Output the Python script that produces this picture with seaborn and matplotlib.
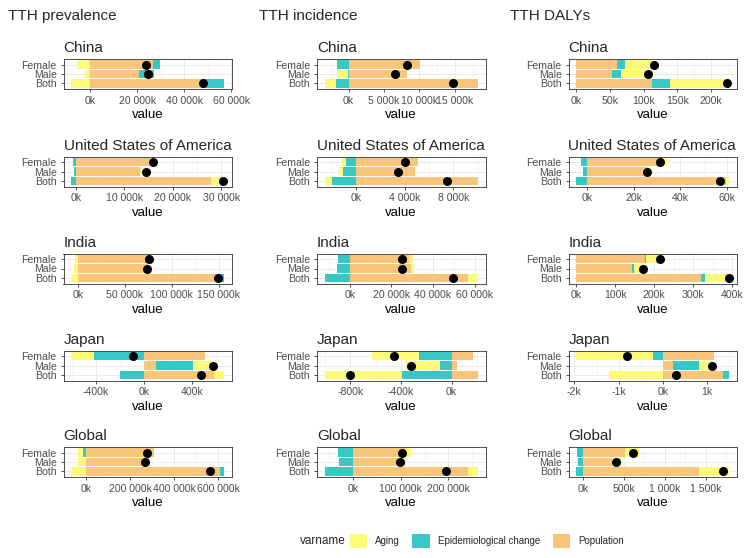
import numpy as np
import matplotlib
matplotlib.use("Agg")
import matplotlib.pyplot as plt
import seaborn as sns
from matplotlib.patches import Patch
from matplotlib.ticker import FixedLocator, FuncFormatter

sns.set_theme(style="white")
plt.rcParams['font.family'] = ['Liberation Sans', 'DejaVu Sans']

measures = ["TTH prevalence", "TTH incidence", "TTH DALYs"]
locations = ["China", "United States of America", "India", "Japan", "Global"]
sexes = ["Both", "Male", "Female"]  # bottom -> top

# all values in thousands; each inner list is [Both, Male, Female]
prev_aging = [[-8200, -2100, -5700], [2800, 400, 400], [-7100, -3900, -2900],
              [90, 168, -188], [-70000, -40000, -25000]]
prev_epi = [[10000, 6600, 3300], [-1000, -500, -600], [8000, 200, 200],
            [-196, 308, -420], [19000, 0, -15000]]
prev_pop = [[47000, 20600, 26500], [27800, 13100, 15200], [148000, 75000, 77000],
            [582, 100, 512], [610000, 286000, 310000]]
prev_total = [[48000, 24700, 23800], [30300, 14400, 15800], [149000, 73900, 75700],
              [479, 577, -95], [565000, 267000, 276000]]

inc_aging = [[-1570, -1560, -100], [-630, -390, -300], [4800, 1450, 2090],
             [-610, -270, -374], [20000, 14000, 11000]]
inc_epi = [[-1800, -100, -1560], [-1920, -1010, -820], [-12070, -6110, -5630],
           [-392, -93, -257], [-60000, -29000, -31000]]
inc_pop = [[18250, 8240, 10030], [10000, 4850, 5120], [56800, 29440, 28480],
           [207, 40, 172], [242000, 96000, 110000]]
inc_total = [[14750, 6590, 8300], [7480, 3420, 4030], [49550, 24950, 24950],
             [-803, -323, -456], [196000, 98000, 102000]]

daly_aging = [[88, 36, 43], [1.6, 1.3, 2.4], [63, 22, 34],
              [-1.22, 0.29, -1.74], [370, 110, 160]]
daly_epi = [[26, 13, 12], [-4.7, -1.6, -2.7], [9, 5, 4],
            [0.15, 0.58, -0.22], [-82, -60, -70]]
daly_pop = [[113, 53, 60], [59.4, 26, 31.8], [320, 144, 176],
            [1.35, 0.23, 1.16], [1420, 360, 520]]
daly_total = [[224, 106, 116], [56.8, 25.7, 31.4], [390, 171, 214],
              [0.30, 1.10, -0.81], [1708, 410, 607]]

ticks = {
    "TTH prevalence": [[0, 20000, 40000, 60000], [0, 10000, 20000, 30000],
                       [0, 50000, 100000, 150000], [-400, 0, 400],
                       [0, 200000, 400000, 600000]],
    "TTH incidence": [[0, 5000, 10000, 15000], [0, 4000, 8000],
                      [0, 20000, 40000, 60000], [-800, -400, 0],
                      [0, 100000, 200000]],
    "TTH DALYs": [[0, 50, 100, 150, 200], [0, 20, 40, 60],
                  [0, 100, 200, 300, 400], [-2, -1, 0, 1],
                  [0, 500, 1000, 1500]],
}

data = {
    "TTH prevalence": (prev_aging, prev_epi, prev_pop, prev_total),
    "TTH incidence": (inc_aging, inc_epi, inc_pop, inc_total),
    "TTH DALYs": (daly_aging, daly_epi, daly_pop, daly_total),
}

c_aging = "#FCFA78"
c_epi = "#36C8C5"
c_pop = "#F9C57B"


def fmt_k(v, pos=None):
    s = f"{v:,.0f}".replace(",", " ")
    return s + "k"


def draw_panel(ax, aging, epi, pop, total, tk):
    y = np.arange(3)
    pos_base = np.zeros(3)
    neg_base = np.zeros(3)
    # stack order from zero outwards: Population, Epidemiological change, Aging
    for vals, col in [(pop, c_pop), (epi, c_epi), (aging, c_aging)]:
        vals = np.asarray(vals, float)
        left = np.where(vals >= 0, pos_base, neg_base)
        ax.barh(y, vals, left=left, height=0.9, color=col, linewidth=0, zorder=2)
        pos_base += np.clip(vals, 0, None)
        neg_base += np.clip(vals, None, 0)
    sns.scatterplot(x=total, y=y, ax=ax, color="black", s=42, linewidth=0,
                    zorder=4, legend=False)
    lo = min(neg_base.min(), min(total), 0)
    hi = max(pos_base.max(), max(total), 0)
    pad = 0.05 * (hi - lo)
    ax.set_xlim(lo - pad, hi + pad)
    ax.set_ylim(-0.6, 2.6)
    ax.xaxis.set_major_locator(FixedLocator(tk))
    ax.xaxis.set_major_formatter(FuncFormatter(fmt_k))
    minors = [(a + b) / 2 for a, b in zip(tk[:-1], tk[1:])]
    step = tk[1] - tk[0]
    minors = [tk[0] - step / 2] + minors + [tk[-1] + step / 2]
    ax.xaxis.set_minor_locator(FixedLocator(minors))
    ax.set_yticks(y)
    ax.set_yticklabels(sexes)
    ax.grid(which="major", axis="both", color="#EBEBEB", linewidth=0.7, zorder=0)
    ax.grid(which="minor", axis="x", color="#F2F2F2", linewidth=0.4, zorder=0)
    ax.set_axisbelow(True)
    for sp in ax.spines.values():
        sp.set_color("#333333")
        sp.set_linewidth(0.6)
    ax.tick_params(axis="both", which="major", length=2.5, width=0.6,
                   color="#333333", labelsize=7.6, labelcolor="#4D4D4D", pad=2.5,
                   bottom=True, left=True)
    ax.tick_params(which="minor", length=0)
    ax.set_xlabel("value", fontsize=9.5, labelpad=2.5, color="black")
    ax.set_ylabel("")


W, H = 754, 558
fig = plt.figure(figsize=(W / 100, H / 100), dpi=100)

col_left = [63.5, 317, 568.5]
row_top = [59, 156.5, 253.5, 350.5, 447]
pw, ph = 168.5, 30

for ci, m in enumerate(measures):
    aging, epi, pop, total = data[m]
    fig.text(8 / W + ci * 251 / W, 1 - 16 / H, m, fontsize=11, va="center", ha="left")
    for ri, loc in enumerate(locations):
        ax = fig.add_axes([col_left[ci] / W, 1 - (row_top[ri] + ph) / H, pw / W, ph / H])
        draw_panel(ax, aging[ri], epi[ri], pop[ri], total[ri], ticks[m][ri])
        ax.set_title(loc, loc="left", fontsize=11, pad=5)

handles = [Patch(facecolor=c_aging, edgecolor="none", label="Aging"),
           Patch(facecolor=c_epi, edgecolor="none", label="Epidemiological change"),
           Patch(facecolor=c_pop, edgecolor="none", label="Population")]
fig.text(300 / W, 1 - 541 / H, "varname", fontsize=8.5, va="center", ha="left")
fig.legend(handles=handles, loc="center left", bbox_to_anchor=(341 / W, 1 - 541 / H),
           ncol=3, frameon=False, fontsize=7, handlelength=1.8, handleheight=1.8,
           columnspacing=1.3, handletextpad=0.8)

fig.savefig("out.png", dpi=100)
